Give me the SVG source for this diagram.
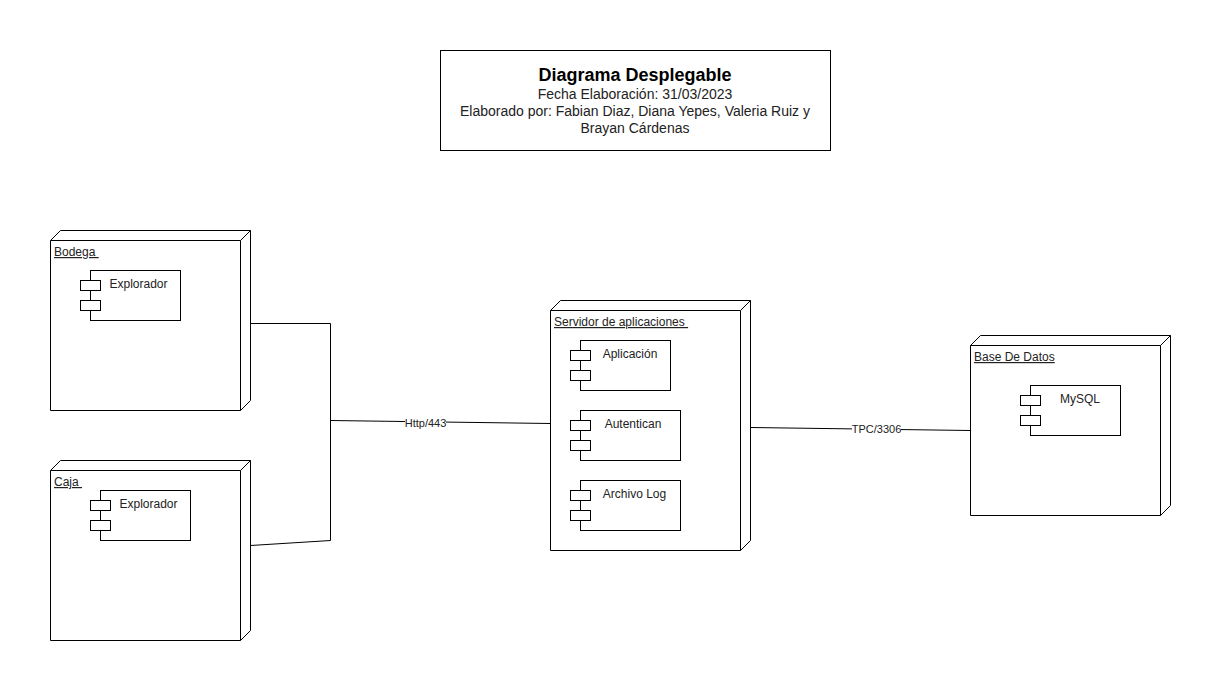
<svg xmlns="http://www.w3.org/2000/svg" width="1221" height="691" viewBox="0 0 1221 691">
<style>
text{font-family:"Liberation Sans",Arial,sans-serif;font-size:12px;fill:#222}
.s{fill:none;stroke:#000;stroke-width:1}
.b{fill:#fff;stroke:#000;stroke-width:1}
.c{text-anchor:middle}
.u{text-decoration:underline;white-space:pre}
.t{font-size:14px;fill:#222}
.l{font-size:11px;text-anchor:middle}
</style>
<defs>
<g id="comp">
<rect class="b" x="10.5" y="0.5" width="90" height="50"/>
<rect class="b" x="0.5" y="10.5" width="20" height="10"/>
<rect class="b" x="0.5" y="30.5" width="20" height="10"/>
</g>
<g id="comp-wide">
<rect class="b" x="10.5" y="0.5" width="100" height="50"/>
<rect class="b" x="0.5" y="10.5" width="20" height="10"/>
<rect class="b" x="0.5" y="30.5" width="20" height="10"/>
</g>
</defs>
<rect width="1221" height="691" fill="#fff"/>
<g id="connectors">
<path class="s" d="M250.5 323.5H330.5V540.5L250.5 545.5"/>
<path class="s" d="M330.5 420.5L550.5 423.5"/>
<path class="s" d="M750.5 427.5L970.5 430.5"/>
<rect x="405" y="418" width="41" height="11" fill="#fff"/>
<rect x="852" y="424" width="49" height="11" fill="#fff"/>
<text class="l" x="425.5" y="427">Http/443</text>
<text class="l" x="876.5" y="433">TPC/3306</text>
</g>
<g id="title">
<rect class="b" x="440.5" y="50.5" width="390" height="100"/>
<text class="c" x="635" y="81" style="font-size:18px;font-weight:bold;fill:#000">Diagrama Desplegable</text>
<text class="c t" x="635" y="99">Fecha Elaboración: 31/03/2023</text>
<text class="c t" x="635" y="116">Elaborado por: Fabian Diaz, Diana Yepes, Valeria Ruiz y</text>
<text class="c t" x="635" y="133">Brayan Cárdenas</text>
</g>
<g id="node-bodega">
<path class="b" d="M50.5 410.5V240.5L60.5 230.5H250.5V400.5L240.5 410.5Z"/>
<path class="s" d="M50.5 240.5H240.5V410.5M240.5 240.5L250.5 230.5"/>
<text class="u" x="54" y="256">Bodega </text>
<use href="#comp" x="80" y="270"/>
<text class="c" x="138.5" y="288">Explorador</text>
</g>
<g id="node-caja">
<path class="b" d="M50.5 640.5V470.5L60.5 460.5H250.5V630.5L240.5 640.5Z"/>
<path class="s" d="M50.5 470.5H240.5V640.5M240.5 470.5L250.5 460.5"/>
<text class="u" x="54" y="486">Caja </text>
<use href="#comp" x="90" y="490"/>
<text class="c" x="148.5" y="508">Explorador</text>
</g>
<g id="node-servidor">
<path class="b" d="M550.5 550.5V310.5L560.5 300.5H750.5V540.5L740.5 550.5Z"/>
<path class="s" d="M550.5 310.5H740.5V550.5M740.5 310.5L750.5 300.5"/>
<text class="u" x="554" y="326">Servidor de aplicaciones </text>
<use href="#comp" x="570" y="340"/>
<text class="c" x="630" y="358">Aplicación</text>
<use href="#comp-wide" x="570" y="410"/>
<text class="c" x="633" y="428">Autentican</text>
<use href="#comp-wide" x="570" y="480"/>
<text class="c" x="634.5" y="498">Archivo Log</text>
</g>
<g id="node-base-datos">
<path class="b" d="M970.5 515.5V345.5L980.5 335.5H1170.5V505.5L1160.5 515.5Z"/>
<path class="s" d="M970.5 345.5H1160.5V515.5M1160.5 345.5L1170.5 335.5"/>
<text class="u" x="974" y="361">Base De Datos</text>
<use href="#comp" x="1020" y="385"/>
<text class="c" x="1080" y="403">MySQL</text>
</g>
</svg>
